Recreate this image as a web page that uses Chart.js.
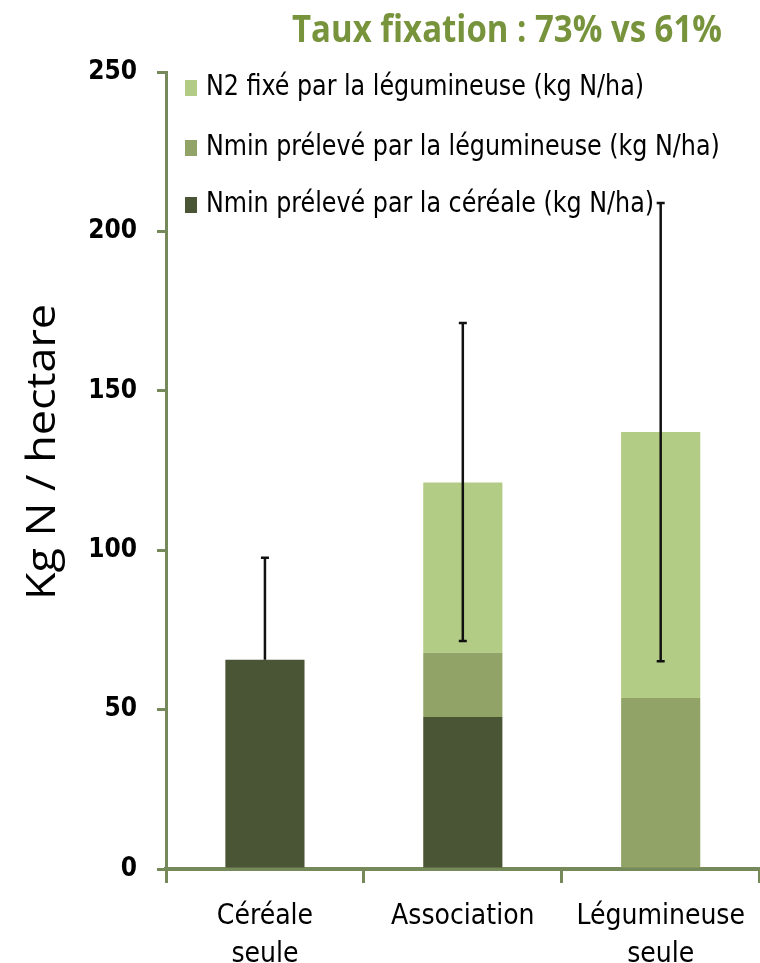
<!DOCTYPE html>
<html>
<head>
<meta charset="utf-8">
<script src="https://cdn.jsdelivr.net/npm/chart.js@4/dist/chart.umd.min.js"></script>
<style>
  html, body { margin: 0; padding: 0; background: #fff; }
  #wrap { width: 760px; height: 963px; position: relative; }
</style>
</head>
<body>
<div id="wrap"><canvas id="chart"></canvas></div>
<script>
const categories = [['Céréale', 'seule'], ['Association'], ['Légumineuse', 'seule']];

const nminCereale = [65.6, 47.7, 0];
const nminLegumineuse = [0, 20.1, 53.6];
const n2Fixe = [0, 53.4, 83.5];

// barres d'erreur (valeurs absolues)
const errLow = [65.6, 71.5, 65.2];
const errHigh = [97.6, 171.3, 208.9];

const yTicks = [0, 50, 100, 150, 200, 250];

const titleText = 'Taux fixation : 73% vs 61%';
const yTitle = 'Kg N / hectare';

const olive = '#77933C';
const axisColor = '#76895A';
const narrow = "'DejaVu Sans Condensed', sans-serif";

// texte un peu resserré (police type Calibri)
function squeezeText(ctx, text, x, y, width) {
    const w = ctx.measureText(text).width;
    const k = width ? width / w : 1;
    ctx.save();
    ctx.translate(x, y);
    ctx.scale(k, 1);
    ctx.fillText(text, 0, 0);
    ctx.restore();
}

// titre, titre d'axe et légende
const overlay = {
    id: 'overlay',
    afterDraw(chart) {
        const ctx = chart.ctx;
        const area = chart.chartArea;
        ctx.save();
        ctx.fillStyle = olive;
        ctx.font = "bold 38px 'Open Sans', sans-serif";
        ctx.textAlign = 'center';
        ctx.textBaseline = 'middle';
        squeezeText(ctx, titleText, 507, 31, 430);

        ctx.fillStyle = '#000';
        ctx.font = "40px 'Open Sans', sans-serif";
        ctx.save();
        ctx.translate(44, 452);
        ctx.rotate(-Math.PI / 2);
        squeezeText(ctx, yTitle, 0, 0, 296);
        ctx.restore();

        ctx.font = "28px " + narrow;
        ctx.textAlign = 'left';
        const ys = [88, 148, 205];
        const ds = chart.data.datasets.slice().reverse();
        const k = 438 / ctx.measureText(ds[0].label).width;
        ds.forEach((d, i) => {
            ctx.fillStyle = d.backgroundColor;
            ctx.fillRect(area.left + 19, ys[i] - 8, 12, 16);
            ctx.fillStyle = '#000';
            squeezeText(ctx, d.label, area.left + 40, ys[i], ctx.measureText(d.label).width * k);
        });
        ctx.restore();
    }
};

const errorBars = {
    id: 'errorBars',
    afterDatasetsDraw(chart) {
        const ctx = chart.ctx;
        const x = chart.scales.x;
        const y = chart.scales.y;
        ctx.save();
        ctx.strokeStyle = '#111';
        ctx.lineWidth = 2.5;
        for (let i = 0; i < categories.length; i++) {
            const total = nminCereale[i] + nminLegumineuse[i] + n2Fixe[i];
            const px = x.getPixelForValue(i);
            const yLo = y.getPixelForValue(errLow[i]);
            const yHi = y.getPixelForValue(errHigh[i]);
            ctx.beginPath();
            ctx.moveTo(px, yLo);
            ctx.lineTo(px, yHi);
            ctx.moveTo(px - 4, yHi);
            ctx.lineTo(px + 4, yHi);
            if (errLow[i] < total) {
                ctx.moveTo(px - 4, yLo);
                ctx.lineTo(px + 4, yLo);
            }
            ctx.stroke();
        }
        ctx.restore();
    }
};

new Chart(document.getElementById('chart'), {
    type: 'bar',
    data: {
        labels: categories,
        datasets: [
            { label: 'Nmin prélevé par la céréale (kg N/ha)', data: nminCereale, backgroundColor: '#4A5535' },
            { label: 'Nmin prélevé par la légumineuse (kg N/ha)', data: nminLegumineuse, backgroundColor: '#91A367' },
            { label: 'N2 fixé par la légumineuse (kg N/ha)', data: n2Fixe, backgroundColor: '#B3CC85' }
        ]
    },
    options: {
        responsive: true,
        maintainAspectRatio: false,
        animation: false,
        layout: { padding: { top: 72, right: 0, bottom: 0, left: 0 } },
        datasets: { bar: { barPercentage: 0.4, categoryPercentage: 1 } },
        plugins: {
            legend: { display: false },
            title: { display: false },
            tooltip: { enabled: false }
        },
        scales: {
            x: {
                stacked: true,
                offset: true,
                border: { color: axisColor, width: 4 },
                grid: { offset: true, drawOnChartArea: false, color: axisColor, lineWidth: 3, tickLength: 14 },
                ticks: { color: '#000', font: { family: narrow, size: 28, lineHeight: 1.35 }, padding: 15, maxRotation: 0 },
                afterFit(s) { s.height = 94; }
            },
            y: {
                stacked: true,
                min: 0,
                max: 250,
                afterBuildTicks(s) { s.ticks = yTicks.map(v => ({ value: v })); },
                border: { color: axisColor, width: 3 },
                grid: { drawOnChartArea: false, color: axisColor, lineWidth: 3, tickLength: 9 },
                ticks: { color: '#000', font: { family: narrow, size: 26, weight: 'bold' }, padding: 20 },
                afterFit(s) { s.width = 166; }
            }
        }
    },
    plugins: [errorBars, overlay]
});
</script>
</body>
</html>
